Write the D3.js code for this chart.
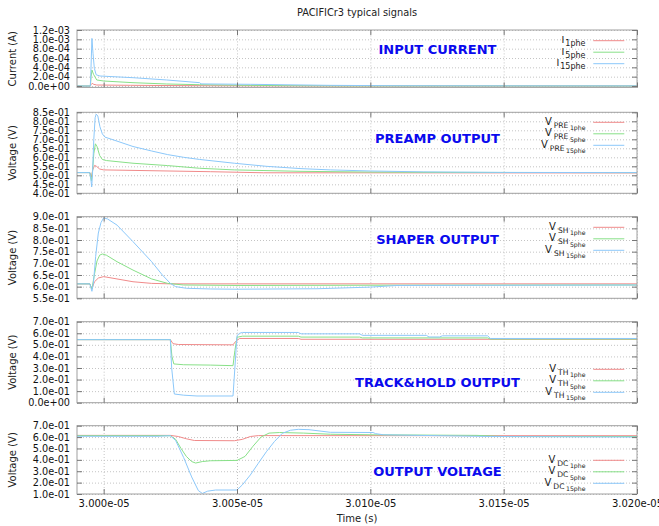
<!DOCTYPE html>
<html>
<head>
<meta charset="utf-8">
<script src="https://cdn.jsdelivr.net/npm/d3@7"></script>
<style>
  body { margin: 0; background: #fff; }
  svg { display: block; font-family: "DejaVu Sans", sans-serif; }
</style>
</head>
<body>
<svg id="chart" width="659" height="526"></svg>
<script>
// ---------------- DATA (time in ns, values in A or V) ----------------
const xTicks = [3.000e-05, 3.005e-05, 3.010e-05, 3.015e-05, 3.020e-05];

const currentTicks = [0, 2e-4, 4e-4, 6e-4, 8e-4, 1.0e-3, 1.2e-3];
const preTicks = [0.40, 0.45, 0.50, 0.55, 0.60, 0.65, 0.70, 0.75, 0.80, 0.85];
const shTicks = [0.55, 0.60, 0.65, 0.70, 0.75, 0.80, 0.85, 0.90];
const thTicks = [0.0, 0.1, 0.2, 0.3, 0.4, 0.5, 0.6, 0.7];
const dcTicks = [0.1, 0.2, 0.3, 0.4, 0.5, 0.6, 0.7];

const seriesNames = ["1phe", "5phe", "15phe"];
const panelTitles = ["INPUT CURRENT", "PREAMP OUTPUT", "SHAPER OUTPUT", "TRACK&HOLD OUTPUT", "OUTPUT VOLTAGE"];
const legendPrefixes = ["I", "V|PRE", "V|SH", "V|TH", "V|DC"];
const yTitles = ["Current (A)", "Voltage (V)", "Voltage (V)", "Voltage (V)", "Voltage (V)"];

// Input current
const i1phe = [[29990,0],[29995,0],[29995.3,0.03e-3],[29995.7,0.057e-3],[29996.3,0.035e-3],[29997.4,0.021e-3],[30010,0.015e-3],[30023,0.010e-3],[30040,0.006e-3],[30060,0.003e-3],[30080,0.001e-3],[30200,0]];
const i5phe = [[29990,0],[29995,0],[29995.3,0.2e-3],[29995.6,0.343e-3],[29996.2,0.25e-3],[29997.4,0.129e-3],[30000,0.107e-3],[30011,0.071e-3],[30023.6,0.043e-3],[30036,0.028e-3],[30055,0.014e-3],[30070,0.006e-3],[30090,0.002e-3],[30200,0]];
const i15phe = [[29990,0],[29995,0],[29995.2,0.3e-3],[29995.6,1.02e-3],[29996.0,0.7e-3],[29996.5,0.38e-3],[29997.2,0.24e-3],[29998.6,0.214e-3],[30011,0.178e-3],[30023.6,0.129e-3],[30036,0.071e-3],[30036.5,0.045e-3],[30055,0.036e-3],[30085,0.014e-3],[30110,0.006e-3],[30150,0.003e-3],[30200,0.002e-3]];

// Preamp output
const pre1phe = [[29990,0.515],[29994.8,0.515],[29995.4,0.49],[29995.9,0.53],[29996.6,0.555],[29997.3,0.55],[29998.5,0.535],[30000,0.53],[30020,0.525],[30040,0.52],[30060,0.514],[30200,0.513]];
const pre5phe = [[29990,0.515],[29994.8,0.515],[29995.4,0.47],[29995.8,0.52],[29996.3,0.62],[29996.9,0.675],[29997.5,0.66],[29998.5,0.61],[29999.5,0.588],[30001,0.582],[30011,0.567],[30024,0.554],[30036,0.539],[30049,0.53],[30074,0.522],[30100,0.518],[30130,0.516],[30200,0.515]];
const pre15phe = [[29990,0.515],[29994.8,0.515],[29995.2,0.48],[29995.5,0.435],[29995.8,0.5],[29996.3,0.7],[29996.8,0.82],[29997.2,0.84],[29997.8,0.83],[29998.6,0.77],[29999.5,0.73],[30000.5,0.712],[30005,0.69],[30011,0.66],[30018,0.635],[30024,0.615],[30030,0.6],[30036,0.588],[30049,0.567],[30061,0.55],[30074,0.537],[30085,0.53],[30100,0.524],[30120,0.519],[30150,0.516],[30200,0.515]];

// Shaper output
const sh1phe = [[29990,0.612],[29994.8,0.612],[29995.6,0.59],[29996.5,0.62],[29998,0.637],[30000,0.643],[30005,0.633],[30011,0.621],[30018,0.614],[30025,0.612],[30200,0.612]];
const sh5phe = [[29990,0.612],[29994.8,0.612],[29995.6,0.59],[29996.5,0.65],[29997.5,0.71],[29998.5,0.735],[29999.5,0.74],[30001,0.735],[30005,0.707],[30011,0.671],[30018,0.633],[30024,0.614],[30030,0.607],[30050,0.605],[30100,0.606],[30200,0.607]];
const sh15phe = [[29990,0.612],[29994.8,0.612],[29995.6,0.58],[29996.2,0.62],[29997,0.73],[29998,0.83],[29999,0.875],[30000,0.895],[30001.5,0.89],[30005,0.864],[30011,0.793],[30018,0.707],[30022,0.65],[30025,0.614],[30027,0.6],[30031,0.593],[30040,0.59],[30050,0.589],[30080,0.591],[30100,0.598],[30110,0.605],[30200,0.607]];

// Track & hold output
const th1phe = [[29990,0.545],[30025,0.545],[30026,0.51],[30028,0.503],[30048.5,0.5],[30049.5,0.53],[30051,0.555],[30073,0.555],[30074,0.548],[30200,0.548]];
const th5phe = [[29990,0.545],[30025,0.545],[30025.6,0.4],[30026.3,0.335],[30030,0.328],[30040,0.325],[30048.5,0.32],[30049.2,0.45],[30050,0.565],[30052,0.575],[30073,0.575],[30074,0.567],[30096,0.567],[30097,0.56],[30144,0.56],[30145,0.55],[30200,0.55]];
const th15phe = [[29990,0.545],[30025,0.545],[30025.5,0.3],[30026.5,0.075],[30030,0.065],[30035,0.058],[30048.5,0.058],[30049.2,0.3],[30050,0.58],[30051,0.6],[30052,0.607],[30073,0.607],[30074,0.595],[30096,0.595],[30097,0.582],[30121,0.582],[30122,0.568],[30126,0.568],[30127,0.578],[30144,0.578],[30145,0.555],[30200,0.555]];

// Output voltage
const dc1phe = [[29990,0.615],[30025,0.615],[30028,0.605],[30031,0.585],[30034,0.57],[30049,0.568],[30052,0.58],[30055,0.605],[30058,0.613],[30200,0.612]];
const dc5phe = [[29990,0.612],[30025,0.612],[30027,0.58],[30029,0.5],[30031,0.43],[30033,0.385],[30034.5,0.372],[30037,0.385],[30040,0.392],[30050,0.395],[30053,0.43],[30056,0.52],[30059,0.6],[30062,0.635],[30066,0.64],[30075,0.635],[30085,0.625],[30101,0.62],[30140,0.615],[30150,0.605],[30200,0.605]];
const dc15phe = [[29990,0.607],[30020,0.607],[30025,0.612],[30027,0.57],[30030,0.42],[30033,0.25],[30035.5,0.13],[30037,0.105],[30039,0.125],[30042,0.135],[30050,0.135],[30052,0.18],[30055,0.267],[30058,0.37],[30061,0.471],[30064,0.56],[30067,0.633],[30070,0.66],[30073,0.668],[30077,0.665],[30085,0.642],[30101,0.64],[30102,0.63],[30105,0.62],[30126,0.612],[30145,0.605],[30200,0.6]];

// ---------------- LAYOUT ----------------
const colors = ["#f08a8a", "#88e088", "#8cc8fa"];
const plotLeft = 77, plotRight = 637;
const panels = [
  { top: 30.0,  bottom: 87.4,  domain: [-0.03e-3, 1.2e-3], ticks: currentTicks, series: [i1phe, i5phe, i15phe], legendY: 40.7, titleY: 54 },
  { top: 112.3, bottom: 193.3, domain: [0.40, 0.85], ticks: preTicks, series: [pre1phe, pre5phe, pre15phe], legendY: 122.3, titleY: 142.7 },
  { top: 216.7, bottom: 298.3, domain: [0.55, 0.90], ticks: shTicks, series: [sh1phe, sh5phe, sh15phe], legendY: 227.3, titleY: 244.3 },
  { top: 321.7, bottom: 402.7, domain: [0.0, 0.7], ticks: thTicks, series: [th1phe, th5phe, th15phe], legendY: 369.3, titleY: 386.5 },
  { top: 425.7, bottom: 494.0, domain: [0.1, 0.7], ticks: dcTicks, series: [dc1phe, dc5phe, dc15phe], legendY: 460.3, titleY: 476 }
];

const fmtExp = (v, d) => {
  const s = v.toExponential(d);
  return s.replace(/e([+-])(\d)$/, "e$10$2");
};

const svg = d3.select("#chart");
const x = d3.scaleLinear().domain([2.999e-05, 3.020e-05]).range([plotLeft, plotRight]);
const W = plotRight - plotLeft;

svg.append("text").attr("x", 357).attr("y", 15.5).attr("text-anchor", "middle")
  .attr("font-size", 9.8).attr("fill", "#222").text("PACIFICr3 typical signals");

panels.forEach((p, i) => {
  const y = d3.scaleLinear().domain(p.domain).range([p.bottom, p.top]);
  const H = p.bottom - p.top;
  const g = svg.append("g");

  // grid
  g.append("g").attr("transform", `translate(${plotLeft},0)`)
    .call(d3.axisLeft(y).tickValues(p.ticks).tickSize(-W).tickFormat(""))
    .call(a => a.select(".domain").remove())
    .call(a => a.selectAll("line").attr("stroke", "#c4c4c4").attr("stroke-dasharray", "1,2"));
  g.append("g").attr("transform", `translate(0,${p.bottom})`)
    .call(d3.axisBottom(x).tickValues(xTicks).tickSize(-H).tickFormat(""))
    .call(a => a.select(".domain").remove())
    .call(a => a.selectAll("line").attr("stroke", "#c4c4c4").attr("stroke-dasharray", "1,2"));

  // clip
  const cid = "clip" + i;
  svg.append("clipPath").attr("id", cid).append("rect")
    .attr("x", plotLeft).attr("y", p.top).attr("width", W).attr("height", H);

  const line = d3.line().x(d => x(d[0] * 1e-9)).y(d => y(d[1]));
  const lg = g.append("g").attr("clip-path", `url(#${cid})`);
  p.series.forEach((s, k) => {
    lg.append("path").datum(s).attr("d", line).attr("fill", "none")
      .attr("stroke", colors[k]).attr("stroke-width", 1);
  });

  // border
  g.append("rect").attr("x", plotLeft).attr("y", p.top).attr("width", W).attr("height", H)
    .attr("fill", "none").attr("stroke", "#a0a0a0").attr("stroke-width", 1);

  // inward ticks
  const tickCol = "#777";
  g.append("g").attr("transform", `translate(${plotLeft},0)`)
    .call(d3.axisRight(y).tickValues(p.ticks).tickSize(5).tickFormat(""))
    .call(a => a.select(".domain").remove()).call(a => a.selectAll("line").attr("stroke", tickCol));
  g.append("g").attr("transform", `translate(${plotRight},0)`)
    .call(d3.axisLeft(y).tickValues(p.ticks).tickSize(5).tickFormat(""))
    .call(a => a.select(".domain").remove()).call(a => a.selectAll("line").attr("stroke", tickCol));
  g.append("g").attr("transform", `translate(0,${p.top})`)
    .call(d3.axisBottom(x).tickValues(xTicks).tickSize(5).tickFormat(""))
    .call(a => a.select(".domain").remove()).call(a => a.selectAll("line").attr("stroke", tickCol));
  g.append("g").attr("transform", `translate(0,${p.bottom})`)
    .call(d3.axisTop(x).tickValues(xTicks).tickSize(5).tickFormat(""))
    .call(a => a.select(".domain").remove()).call(a => a.selectAll("line").attr("stroke", tickCol));

  // y labels
  g.append("g").attr("transform", `translate(${plotLeft},0)`)
    .call(d3.axisLeft(y).tickValues(p.ticks).tickSize(0).tickPadding(7).tickFormat(v => fmtExp(v, 1)))
    .call(a => a.select(".domain").remove())
    .call(a => a.selectAll("text").attr("font-family", "DejaVu Sans").attr("font-size", 9.7).attr("fill", "#111"));

  // y title
  g.append("text").attr("transform", `translate(12,${(p.top + p.bottom) / 2}) rotate(-90)`)
    .attr("text-anchor", "middle").attr("dy", "0.35em").attr("font-size", 10).attr("fill", "#222")
    .text(yTitles[i]);

  // panel title
  g.append("text").attr("x", 437.5).attr("y", p.titleY).attr("text-anchor", "middle")
    .attr("font-size", 13).attr("font-weight", "bold").attr("fill", "#0a0aee").text(panelTitles[i]);

  // legend
  const parts = legendPrefixes[i].split("|");
  seriesNames.forEach((nm, k) => {
    const ly = p.legendY + k * 11.5;
    const t = g.append("text").attr("x", 585.5).attr("y", ly + 2.5).attr("text-anchor", "end")
      .attr("fill", "#222");
    if (parts.length === 1) {
      t.append("tspan").attr("font-size", 9.5).text(parts[0]);
      t.append("tspan").attr("font-size", 8).attr("dx", 1).attr("dy", 3).text(nm);
    } else {
      t.append("tspan").attr("font-size", 10).text(parts[0]);
      t.append("tspan").attr("font-size", 7.6).attr("dx", 2).attr("dy", 3).text(parts[1]);
      t.append("tspan").attr("font-size", 6.2).attr("dx", 1.5).attr("dy", 2.5).text(nm);
    }
    g.append("line").attr("x1", 593.3).attr("x2", 624.3).attr("y1", ly).attr("y2", ly)
      .attr("stroke", colors[k]).attr("stroke-width", 1);
  });

  // x labels on last panel
  if (i === panels.length - 1) {
    g.append("g").attr("transform", `translate(0,${p.bottom})`)
      .call(d3.axisBottom(x).tickValues(xTicks).tickSize(0).tickPadding(6).tickFormat(v => fmtExp(v, 3)))
      .call(a => a.select(".domain").remove())
      .call(a => a.selectAll("text").attr("font-family", "DejaVu Sans").attr("font-size", 10).attr("fill", "#111"));
    svg.append("text").attr("x", 357).attr("y", 522).attr("text-anchor", "middle")
      .attr("font-size", 10).attr("fill", "#222").text("Time (s)");
  }
});
</script>
</body>
</html>
